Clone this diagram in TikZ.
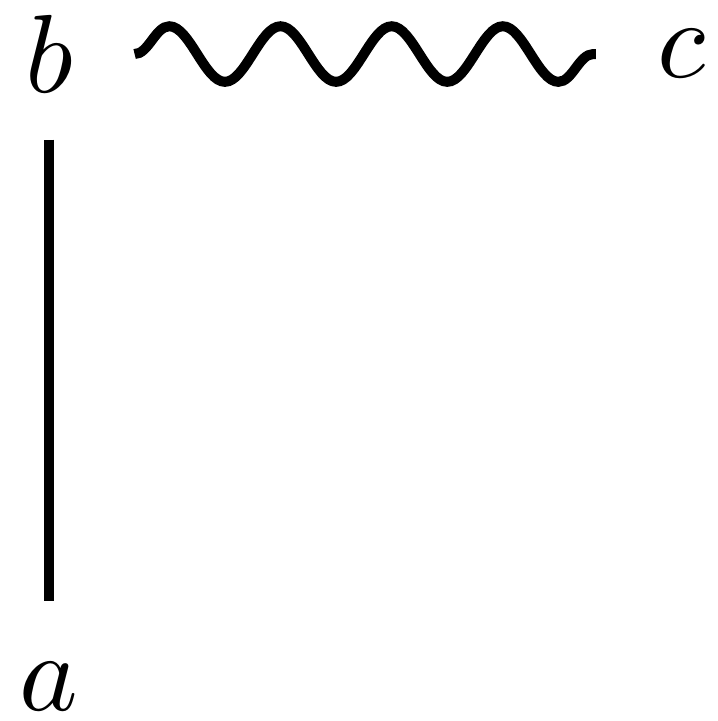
\documentclass[tikz,border=0pt]{standalone}
\usetikzlibrary{decorations.pathmorphing}
\tikzset{
  vertex/.style={circle,inner sep=0pt,minimum size=15pt},
  plain/.style={line width=0.9pt},
  photon/.style={line width=0.9pt,decorate,decoration={snake,segment length=10pt,amplitude=2.5pt}}
}
\begin{document}
\begin{tikzpicture}
  \useasboundingbox (-4.41pt,4.86pt) rectangle (60.1pt,-60pt);
  \node[vertex] (b) at (0,0) {$b$};
  \node[vertex] (c) at (2cm,0) {$c$};
  \node[vertex] (a) at (0,-2cm) {$a$};
  \draw[plain] (b)--(a);
  \draw[photon] (b)--(c);
\end{tikzpicture}
\end{document}
